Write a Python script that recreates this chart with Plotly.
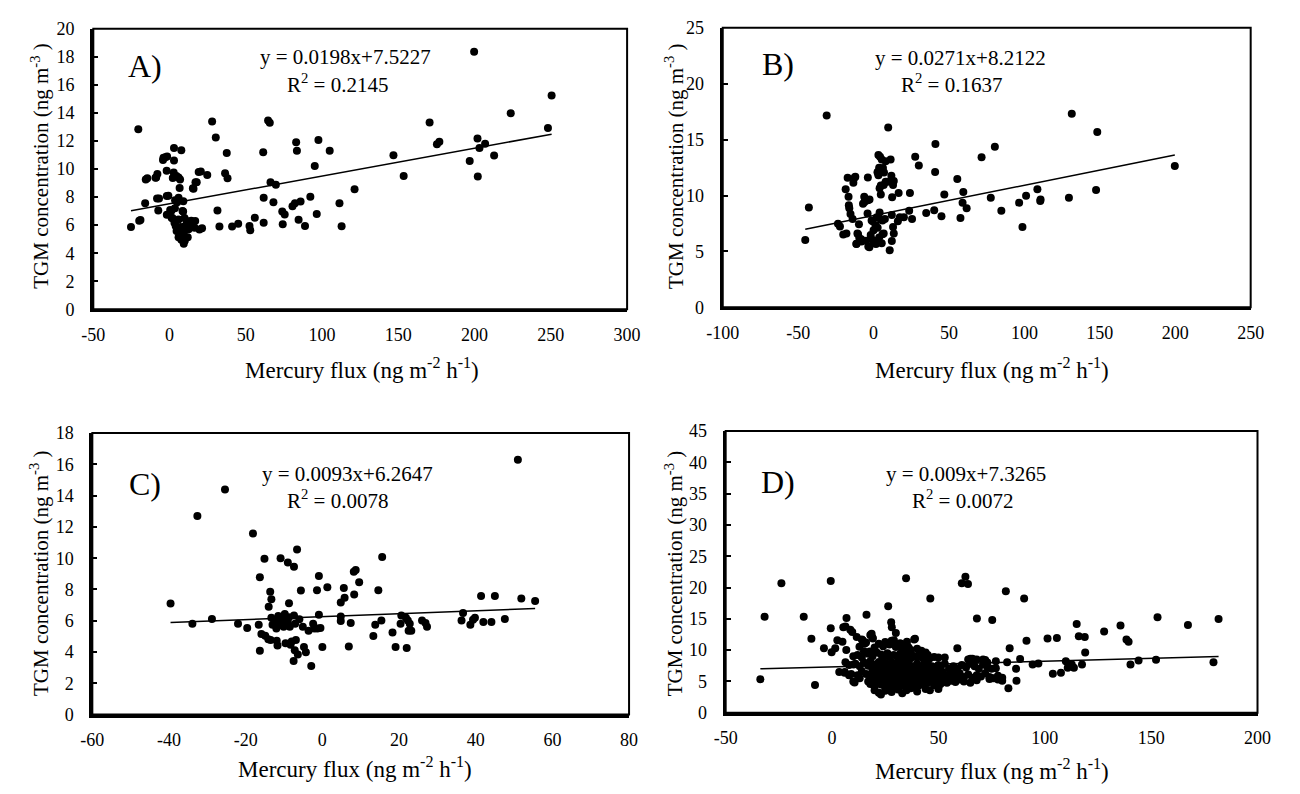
import plotly.graph_objects as go

# ---------------- data ----------------
a_x = [-25.3, -19.1, -20.5, -16, -14.6, -15.6, -8, -8.8, -6.9, -7.4, -4, -1.6, -1.9, -0.8, -0.3,
       2.9, 2.9, 2.7, 2.1, 4.5, 5.9, 6.9, 7.7, 6.6, 5.9, 9.0, 5.0, 3.5, 1.1, 1.9, 3.2, 4.0, 5.9,
       7.2, 6.6, 5.9, 7.7, 9.3, 10.4, 11.9, 8.5, 9.8, 11.2, 12.5, 13.8, 9.8, 12.5, 16.8, 15.7,
       17.8, 20.5, 21.3, 24.7, 27.9, 30.3, 31.4, 32.7, 37.5, 36.4, 38, 41, 45, 52.4, 52.9, 55.9,
       61.4, 61.7, 61.7, 64.6, 65.7, 66.2, 69.7, 68.1, 73.9, 74.2, 75.5, 80.6, 82.2, 83, 83.5,
       84.6, 85.9, 88.8, 92.3, 95.2, 96.5, 97.6, 105, 111.4, 112.8, 121.3, 146.8, 153.5, 170.5,
       175.3, 176.9, 196.8, 199.7, 201.9, 203.2, 202.1, 206.9, 212.8, 223.7, 248.1, 250.5,
       -2.8, -4.3, 19.1, -9.2, 17.0, 15.3, -1.8, -19.9, -8.2, 3.6, 0.4, -1.8, 1.4, 10.0, 4.6,
       7.8, 10.0, 14.2, 16.4, 19.6, 8.9]
a_y = [5.87, 6.36, 12.83, 7.56, 9.34, 9.26, 9.64, 9.4, 7.9, 7.05, 10.8, 10.9, 9.87, 8.1, 6.75,
       11.5, 10.6, 9.76, 9.36, 9.5, 9.4, 9.25, 11.33, 8.65, 7.95, 7.7, 7.63, 7.2, 7.0, 6.5, 6.17,
       5.94, 6.4, 5.87, 5.36, 5.13, 4.95, 4.67, 5.13, 5.13, 7.0, 6.5, 6.29, 6.06, 6.17, 5.6, 5.71,
       6.29, 8.6, 9.06, 9.83, 5.78, 9.57, 13.39, 12.25, 7.05, 5.9, 11.14, 9.69, 9.34, 5.9, 6.1,
       5.94, 5.64, 6.52, 11.19, 7.95, 6.17, 13.46, 13.29, 9.06, 8.88, 7.63, 6.98, 6.06, 6.75,
       7.35, 7.56, 11.9, 11.3, 6.38, 7.68, 5.94, 8.02, 10.22, 6.8, 12.07, 11.3, 7.56, 5.92, 8.55,
       10.98, 9.5, 13.32, 11.77, 11.95, 10.57, 18.36, 12.18, 11.49, 9.46, 11.8, 10.96, 13.97,
       12.92, 15.24,
       10.83, 10.65, 9.79, 9.37, 9.05, 8.63, 8.08, 6.32, 7.9, 7.78, 7.08, 6.74, 6.5, 5.92, 5.58,
       5.35, 4.88, 6.32, 5.81, 5.69, 6.97]

b_x = [-45.3, -42.9, -31.1, -23.6, -22.3, -20.1, -18, -18.5, -17.2, -16.6, -16.4, -16.1, -15.3,
       -13.9, -13.4, -12.1, -11.3, -10.7, -9.7, -9.4, -8, -7, -6.2, -5.4, -3.8, -4, -3.5, -2.7,
       -1.3, -1.9, -0.5, 0, 0.5, 1.3, 2.1, 2.7, 3.2, 3.2, 4.3, 5.4, 4.0, 4.8, 6.2, 6.7, 8.0, 4.0,
       5.9, 7.5, 9.4, 9.7, 10.7, 11.3, 11.8, 12.3, 12.9, 13.4, 12.1, 12.9, 13.4, 12.1, 5.4, 6.7,
       16.1, 16.6, 17.4, 20.1, 23.6, 24.1, 25.5, 27.6, 30, 34.9, 40.2, 40.8, 41, 45, 46.9, 55.5,
       57.6, 59, 59.5, 61.7, 71.6, 77.7, 80.4, 84.7, 96.5, 98.7, 101.1, 108.6, 110.5, 110.7,
       129.5, 131.4, 147.5, 148.3, 199.7,
       -12.5, -10.3, -8.2, -11.4, -4.9, -2.8, 1.6, 3.7, 5.9, 2.7, -0.6, 4.8, 3.7, 6.9, 2.7, 4.8,
       8.0, -6.0, -3.8]
b_y = [6.03, 8.92, 17.15, 7.47, 7.24, 6.52, 6.6, 10.57, 11.59, 9.88, 9.13, 8.86, 8.34, 7.9,
       11.15, 11.67, 5.68, 6.6, 7.42, 6.17, 5.88, 9.27, 9.88, 9.65, 11.62, 8.4, 5.45, 9.65, 7.76,
       6.46, 6.03, 6.9, 5.74, 7.33, 8.05, 12.11, 11.82, 13.62, 13.47, 13.21, 10.66, 10.08, 12.46,
       10.95, 11.24, 8.49, 7.76, 7.9, 11.24, 16.08, 5.1, 13.21, 11.76, 9.85, 10.95, 11.3, 8.26,
       7.18, 6.6, 5.94, 5.74, 6.6, 7.7, 10.23, 8.05, 8.05, 8.63, 10.23, 7.9, 13.47, 12.69, 8.43,
       8.69, 12.11, 14.6, 8.14, 10.08, 11.47, 8.0, 9.36, 10.31, 8.86, 13.41, 9.79, 14.37, 8.63,
       9.36, 7.18, 9.99, 10.57, 9.5, 9.65, 9.79, 17.32, 10.49, 15.67, 12.63,
       11.6, 6.53, 6.1, 5.66, 5.95, 5.37, 5.66, 6.24, 6.53, 7.12, 7.69, 7.84, 12.48, 12.05,
       12.05, 10.89, 13.07, 9.43, 9.58]

c_x = [-39.6, -33.9, -32.6, -28.8, -25.4, -22, -19.6, -18.1, -16.6, -16.3, -16.3, -15.9, -15.1,
       -14.9, -14.1, -14, -13.6, -13.3, -13.5, -13, -13.3, -12.5, -11.9, -11.7, -11.2, -10.9,
       -10.6, -10.1, -9.8, -9.6, -9.2, -9, -8.7, -8.7, -8.5, -8.3, -8, -7.4, -7.5, -7.4, -7.1,
       -6.9, -7.2, -6.6, -6.4, -5.6, -5.1, -4.8, -4.3, -3.6, -2.9, -2.4, -2.1, -1.4, -1.3, -0.9,
       -0.9, -0.5, 0, 1.3, 4.8, 4.8, 4.8, 5.6, 5.8, 6.9, 7.4, 8.2, 8.7, 8.3, 9.6, 13.3, 13.8,
       14.6, 15.4, 15.6, 18.3, 19.1, 20.4, 20.6, 21.8, 22, 22.3, 22.5, 22.8, 23.2, 26, 26.9,
       27.3, 36.3, 36.7, 38.6, 39.3, 39.8, 41.4, 42, 44.1, 45, 47.6, 51, 51.9, 55.5,
       -10.3, -9.0, -11.5, -6.0, -12.0]
c_y = [7.1, 5.81, 12.7, 6.12, 14.39, 5.81, 5.54, 11.58, 5.75, 8.78, 4.09, 5.15, 9.96, 5.04,
       4.82, 6.89, 7.85, 7.37, 4.77, 5.75, 6.19, 6.02, 4.73, 4.42, 5.85, 10.0, 6.19, 5.61, 6.44,
       4.57, 5.98, 9.72, 7.12, 6.23, 5.61, 4.46, 4.67, 9.45, 3.43, 6.33, 5.81, 4.77, 4.11, 10.55,
       3.84, 7.93, 5.61, 4.32, 3.99, 5.36, 3.11, 5.81, 5.5, 7.95, 5.5, 8.86, 6.39, 5.54, 4.32,
       8.14, 7.16, 6.27, 5.98, 8.1, 7.47, 4.36, 5.85, 9.13, 9.24, 7.68, 8.47, 5.02, 5.75, 7.95,
       6.02, 10.07, 5.25, 4.32, 5.81, 6.33, 6.19, 4.26, 6.02, 5.36, 5.81, 5.36, 6.02, 5.85, 5.61,
       6.02, 6.5, 5.75, 6.06, 6.19, 7.58, 5.92, 5.92, 7.58, 6.12, 16.3, 7.43, 7.27,
       6.05, 5.9, 6.3, 6.1, 5.5]

d_x = [-33.7, -31.7, -23.8, -13.3, -9.7, -8, -3.8, -0.6, -0.6, -0.2, 1.5, 2.5, 3.4, 4.9, 5.3,
       6.3, 6.8, 6.7, 6.3, 5.9, 8.6, 9.5, 10.1, 10.6, 11.6, 12.9, 14.4, 15.4, 16.2, 17.7, 18.6,
       19.2, 26.4, 27.8, 28.1, 29.1, 30, 34.8, 35.2, 38.6, 46.2, 58.9, 61, 62.7, 63.9, 68.1,
       75.3, 81.7, 90.3, 83.5, 88.4, 91.4, 82.3, 86.5, 86.7, 82.9, 94.3, 97, 101.3, 103.8,
       105.7, 107.6, 109.9, 110.8, 112.7, 113.7, 115, 116, 117.5, 118.8, 119, 127.9, 135.6,
       138.4, 139.4, 140.3, 144.1, 152.3, 153, 167.3, 179.3, 181.7,
       14, 16, 18, 19, 20, 22, 24, 25, 27, 28, 30, 32, 33, 35, 36, 37, 39, 40, 42, 44, 45,
       10, 12, 14, 15, 17, 19, 21, 23, 24, 26, 27, 29, 31, 32, 34, 35, 37, 38, 40, 41, 43, 44,
       46, 48, 50, 53, 65, 68, 72, 77,
       8, 11, 13, 15, 17, 18, 20, 21, 22, 23, 25, 26, 28, 29, 30, 31, 33, 34, 35, 36, 38, 39,
       40, 41, 43, 44, 45, 47, 48, 50, 51, 53, 55, 57, 59, 61, 63, 65, 67, 69, 71, 73, 75, 77, 58,
       6, 9, 12, 14, 16, 18, 19, 20, 21, 22, 23, 24, 25, 26, 27, 28, 29, 30, 31, 32, 33, 34, 35,
       36, 37, 38, 39, 40, 41, 42, 43, 44, 45, 46, 47, 48, 49, 50, 51, 52, 54, 55, 56, 58, 60,
       62, 64, 66, 68, 70, 72, 74, 76, 78, 80,
       17, 18, 19, 20, 21, 22, 23, 24, 25, 26, 27, 28, 29, 30, 31, 32, 33, 34, 35, 36, 37, 38,
       39, 40, 41, 42, 43, 44, 45, 47, 48, 49, 50, 51, 52, 54, 56, 58, 60, 62, 65, 68, 74,
       20, 22, 23, 25, 27, 28, 31, 33, 35, 37, 40, 44, 46, 50,
       64, 66, 71, 73, 75, 78, 80, 8, 10, 13]
d_y = [5.35, 15.33, 20.69, 15.33, 11.8, 4.42, 10.29, 21.05, 13.51, 9.67, 10.29, 11.59, 6.5,
       11.33, 13.67, 13.77, 15.12, 10.03, 8.06, 6.39, 13.25, 12.89, 7.69, 4.83, 12.11, 10.55,
       11.59, 11.07, 15.64, 9.77, 12.63, 11.85, 17.0, 14.45, 13.67, 11.59, 12.73, 21.47, 11.33,
       11.69, 18.24, 10.29, 20.69, 21.73, 20.58, 15.07, 14.81, 19.39, 18.24, 10.29, 8.58, 11.49,
       8.06, 7.02, 5.09, 3.9, 7.69, 7.85, 11.85, 6.24, 11.95, 6.39, 8.21, 7.17, 7.69, 7.17,
       14.19, 12.21, 7.69, 12.11, 9.62, 12.99, 13.93, 11.69, 11.33, 7.69, 8.32, 8.47, 15.23,
       14.03, 8.06, 14.97,
       11.7, 11.2, 12.4, 12.0, 10.4, 11.0, 10.6, 11.3, 10.9, 11.5, 10.5, 11.1, 10.2, 11.0, 10.4,
       10.0, 11.8, 10.2, 9.9, 9.6, 9.2,
       9.0, 9.2, 8.8, 9.8, 9.4, 9.0, 9.6, 9.3, 8.7, 9.5, 8.9, 9.2, 8.6, 9.4, 8.9, 9.6, 8.7, 9.1,
       8.8, 9.4, 8.6, 9.0, 8.7, 8.9, 8.8, 8.8, 8.6, 8.5, 8.4, 8.2,
       7.6, 7.8, 7.4, 8.0, 7.5, 8.2, 7.7, 7.2, 8.1, 7.5, 7.9, 7.3, 8.0, 7.4, 7.8, 7.1, 8.1, 7.5,
       7.2, 7.9, 7.4, 7.0, 7.8, 7.3, 7.6, 7.1, 8.0, 7.4, 7.0, 7.6, 7.2, 7.8, 7.0, 7.4, 7.1, 7.6,
       7.2, 7.8, 7.4, 7.0, 7.7, 7.3, 7.0, 7.1, 6.9,
       6.5, 6.2, 6.0, 6.6, 6.2, 5.8, 6.8, 6.3, 5.6, 6.6, 6.0, 5.7, 6.9, 6.4, 5.9, 6.7, 6.2, 5.6,
       6.5, 6.0, 5.7, 6.8, 6.3, 5.8, 6.6, 6.1, 5.6, 6.9, 6.4, 5.9, 6.6, 6.1, 5.7, 6.5, 6.0, 5.6,
       6.7, 6.2, 5.8, 6.5, 6.0, 5.6, 6.4, 5.9, 6.3, 5.7, 6.1, 5.6, 6.0, 5.8, 6.3, 5.7, 5.5, 5.9,
       5.6,
       5.0, 4.6, 5.3, 4.2, 4.9, 5.4, 4.5, 5.1, 4.0, 4.8, 5.3, 4.4, 5.0, 4.1, 4.7, 5.2, 4.3, 4.9,
       5.4, 4.5, 5.0, 4.2, 4.8, 5.3, 4.4, 5.0, 4.6, 5.2, 4.8, 5.1, 4.4, 4.9, 4.1, 4.6, 5.2, 4.8,
       5.1, 4.9, 5.3, 5.0, 4.8, 5.2, 5.4,
       3.6, 3.2, 2.9, 3.5, 3.8, 3.3, 3.7, 3.1, 3.6, 3.9, 3.4, 3.8, 3.6, 3.8,
       8.5, 8.6, 8.5, 8.0, 5.5, 5.3, 5.1, 6.0, 5.0, 5.5]

panel_labels = ["A)", "B)", "C)", "D)"]
slopes = [0.0198, 0.0271, 0.0093, 0.009]
intercepts = [7.5227, 8.2122, 6.2647, 7.3265]
eq_texts = ["y = 0.0198x+7.5227", "y = 0.0271x+8.2122", "y = 0.0093x+6.2647", "y = 0.009x+7.3265"]
r2_texts = ["0.2145", "0.1637", "0.0078", "0.0072"]
x_ranges = [[-50, 300], [-100, 250], [-60, 80], [-50, 200]]
y_ranges = [[0, 20], [0, 25], [0, 18], [0, 45]]
x_tick_labels = [["-50", "0", "50", "100", "150", "200", "250", "300"],
                 ["-100", "-50", "0", "50", "100", "150", "200", "250"],
                 ["-60", "-40", "-20", "0", "20", "40", "60", "80"],
                 ["-50", "0", "50", "100", "150", "200"]]
y_tick_labels = [["0", "2", "4", "6", "8", "10", "12", "14", "16", "18", "20"],
                 ["0", "5", "10", "15", "20", "25"],
                 ["0", "2", "4", "6", "8", "10", "12", "14", "16", "18"],
                 ["0", "5", "10", "15", "20", "25", "30", "35", "40", "45"]]
x_title = "Mercury flux (ng m<sup>-2</sup> h<sup>-1</sup>)"
y_title = "TGM concentration (ng m<sup>-3</sup> )"

# ---------------- layout geometry ----------------
# positions are given in screen pixels of the 1300x794 page; the page body adds an 8 px margin
PAGE_OFF = 8
W, H = 1300 - 2 * PAGE_OFF, 794 - 2 * PAGE_OFF
boxes = [(78, 625, 19, 307), (723, 1264, 18, 305), (77, 627, 434, 723), (726, 1271, 432, 721)]
lab_pos = [(0.097, 0.868), (0.105, 0.872), (0.098, 0.818), (0.099, 0.818)]
eq_pos = [(0.473, 0.899), (0.451, 0.892), (0.475, 0.855), (0.451, 0.848)]
r2_pos = [(0.457, 0.806), (0.434, 0.801), (0.456, 0.765), (0.446, 0.758)]
xt_pos = [(353, 368), (999, 368), (346, 777), (999, 779)]
yt_pos = [(23, 160), (673, 160), (23, 578), (673, 578)]


def px_x(v):
    return (v - PAGE_OFF) / W


def px_y(v):
    return 1 - (v - PAGE_OFF) / H


FONT = "Liberation Serif"
xs = [a_x, b_x, c_x, d_x]
ys = [a_y, b_y, c_y, d_y]

fig = go.Figure()
annotations = []
shapes = []
axes = {}
for i in range(4):
    n = "" if i == 0 else str(i + 1)
    xa, ya = "x" + n, "y" + n
    l, r, t, b = boxes[i]
    fig.add_trace(go.Scatter(x=xs[i], y=ys[i], mode="markers", xaxis=xa, yaxis=ya,
                             marker=dict(color="black", size=8, line=dict(width=0)),
                             showlegend=False, hoverinfo="x+y"))
    x0, x1 = min(xs[i]), max(xs[i])
    fig.add_trace(go.Scatter(x=[x0, x1], y=[slopes[i] * x0 + intercepts[i], slopes[i] * x1 + intercepts[i]],
                             mode="lines", xaxis=xa, yaxis=ya, line=dict(color="black", width=1.5),
                             showlegend=False, hoverinfo="skip"))
    tf = dict(family=FONT, size=18, color="black")
    axes["xaxis" + n] = dict(showgrid=False, zeroline=False, showline=True, linecolor="black",
                             linewidth=3.2, mirror=False, tickfont=tf,
                             domain=[px_x(l), px_x(r)], range=x_ranges[i],
                             tickmode="array", tickvals=[float(s) for s in x_tick_labels[i]],
                             ticktext=x_tick_labels[i], ticks="", anchor=ya,
                             ticklabelstandoff=7)
    axes["yaxis" + n] = dict(showgrid=False, zeroline=False, showline=True, linecolor="black",
                             linewidth=3.2, mirror=False, tickfont=tf,
                             domain=[px_y(b), px_y(t)], range=y_ranges[i],
                             tickmode="array", tickvals=[float(s) for s in y_tick_labels[i]],
                             ticktext=y_tick_labels[i], ticks="inside", ticklen=5,
                             tickwidth=1.5, tickcolor="black", anchor=xa,
                             ticklabelstandoff=12)
    shapes.append(dict(type="rect", xref=xa + " domain", yref=ya + " domain", x0=0, x1=1, y0=0, y1=1,
                       line=dict(color="black", width=2), layer="above"))
    annotations.append(dict(text=panel_labels[i], xref=xa + " domain", yref=ya + " domain",
                            x=lab_pos[i][0], y=lab_pos[i][1], showarrow=False,
                            font=dict(family=FONT, size=32, color="black"),
                            xanchor="center", yanchor="middle"))
    annotations.append(dict(text=eq_texts[i], xref=xa + " domain", yref=ya + " domain",
                            x=eq_pos[i][0], y=eq_pos[i][1], showarrow=False,
                            font=dict(family=FONT, size=21, color="black"),
                            xanchor="center", yanchor="middle"))
    annotations.append(dict(text="R<sup>2</sup> = " + r2_texts[i], xref=xa + " domain", yref=ya + " domain",
                            x=r2_pos[i][0], y=r2_pos[i][1], showarrow=False,
                            font=dict(family=FONT, size=21, color="black"),
                            xanchor="center", yanchor="middle"))
    annotations.append(dict(text=x_title, xref="paper", yref="paper",
                            x=px_x(xt_pos[i][0]), y=px_y(xt_pos[i][1]), showarrow=False,
                            font=dict(family=FONT, size=23, color="black"),
                            xanchor="center", yanchor="middle"))
    annotations.append(dict(text=y_title, xref="paper", yref="paper", textangle=-90,
                            x=px_x(yt_pos[i][0]), y=px_y(yt_pos[i][1]), showarrow=False,
                            font=dict(family=FONT, size=21, color="black"),
                            xanchor="center", yanchor="middle"))

fig.update_layout(width=W, height=H, margin=dict(l=0, r=0, t=0, b=0),
                  font=dict(family=FONT, color="black"),
                  paper_bgcolor="white", plot_bgcolor="white",
                  annotations=annotations, shapes=shapes, showlegend=False, **axes)
fig.write_html("out.html")
